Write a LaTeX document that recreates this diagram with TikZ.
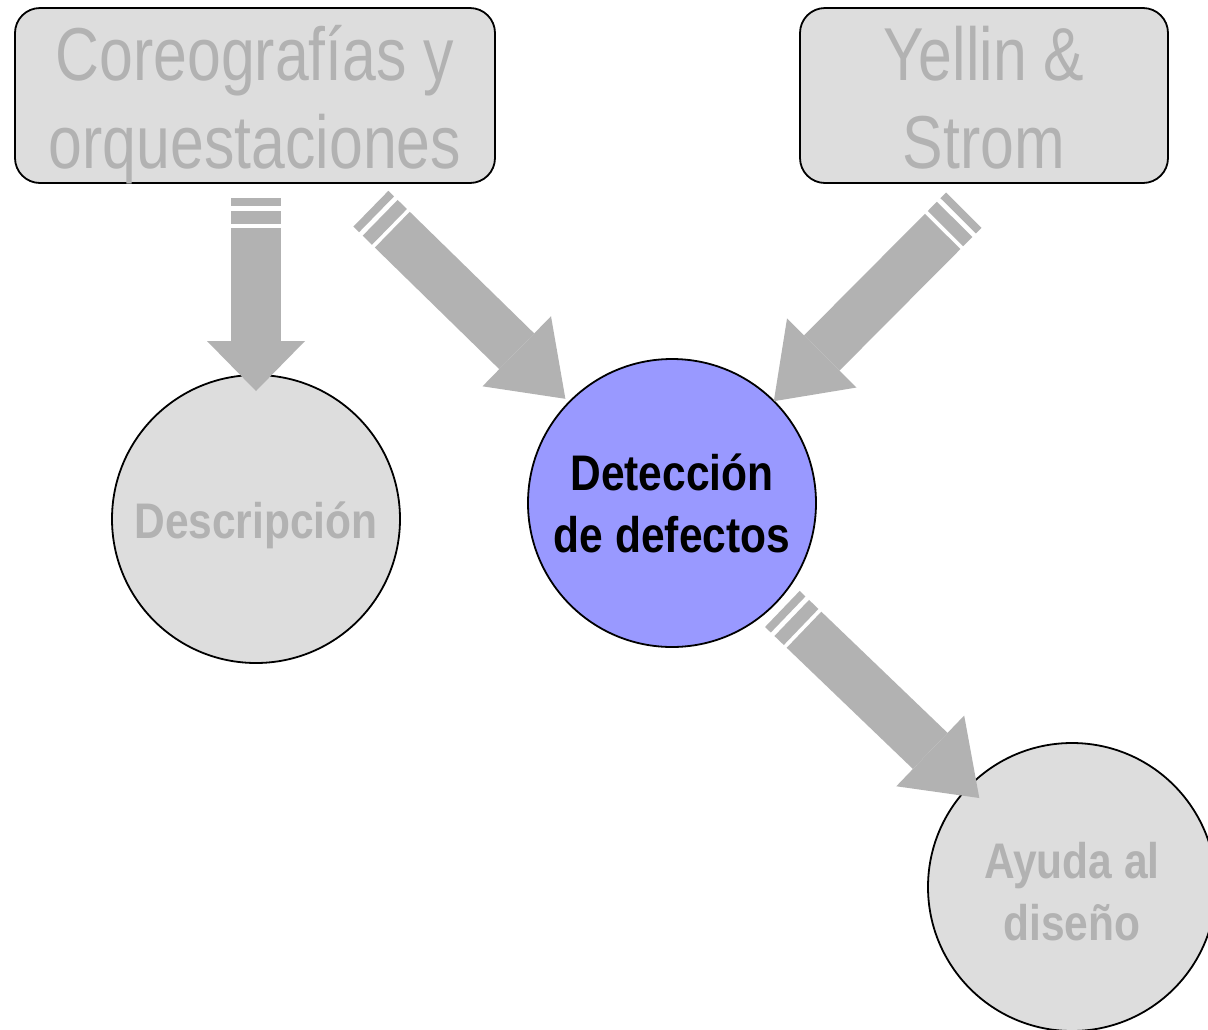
\documentclass[tikz,border=0pt]{standalone}
\usepackage{fontspec}
\usetikzlibrary{arrows.meta,calc}
\newfontfamily\narrowfont[FakeStretch=0.81]{Liberation Sans}
\newfontfamily\boldnarrow[FakeStretch=0.85]{Liberation Sans}
\definecolor{boxgray}{HTML}{DDDDDD}
\definecolor{textgray}{HTML}{B2B2B2}
\definecolor{arrowgray}{HTML}{B2B2B2}
\definecolor{detblue}{HTML}{9999FF}
\tikzset{
  topbox/.style={draw, line width=1.8pt, fill=boxgray, rounded corners=25pt,
    minimum height=175pt, inner sep=0pt, outer sep=0pt, align=center,
    text height=148pt, text depth=3pt,
    text=textgray, font=\narrowfont\fontsize{75}{88}\selectfont},
  topic/.style={draw, line width=1.8pt, circle, fill=boxgray, minimum size=288pt,
    inner sep=0pt, outer sep=0pt, align=center, text=textgray,
    font=\boldnarrow\bfseries\fontsize{50}{62}\selectfont},
  bigarrow/.style={draw=arrowgray, line width=50pt,
    dash pattern=on 8pt off 5pt on 13pt off 4pt on 2000pt off 1pt,
    -{Triangle[width=98pt,length=#1pt,line width=0pt]}}
}
\begin{document}
\begin{tikzpicture}[x=1pt,y=-1pt]
  \clip (0,0) rectangle (1208,1029);
  \fill[white] (0,0) rectangle (1208,1029);

  \node[topbox, minimum width=480pt] (coreo) at (255,95.5) {Coreografías y\\orquestaciones};
  \node[topbox, minimum width=368pt] (yellin) at (984,95.5) {Yellin \&\\Strom};

  \node[topic, text height=38pt, text depth=0pt] (desc) at (256,519) {Descripción};
  \node[topic, fill=detblue, text=black, text height=100pt, text depth=2pt] (detec) at (672,503) {Detección\\de defectos};
  \node[topic, text height=108pt, text depth=2pt] (ayuda) at (1072,887) {Ayuda al\\diseño};

  \draw[bigarrow=50] ($(coreo.south)+(1,15)$) -- ($(desc.north)+(0,16)$);
  \draw[bigarrow=68] ($(coreo)!162pt!(detec)$) -- ($(coreo)!434pt!(detec)$);
  \draw[bigarrow=68] ($(detec.45)+(190,-191)$) -- (detec.45);
  \draw[bigarrow=68] ($(detec)!153pt!(ayuda)$) -- ($(detec)!426pt!(ayuda)$);
\end{tikzpicture}
\end{document}
